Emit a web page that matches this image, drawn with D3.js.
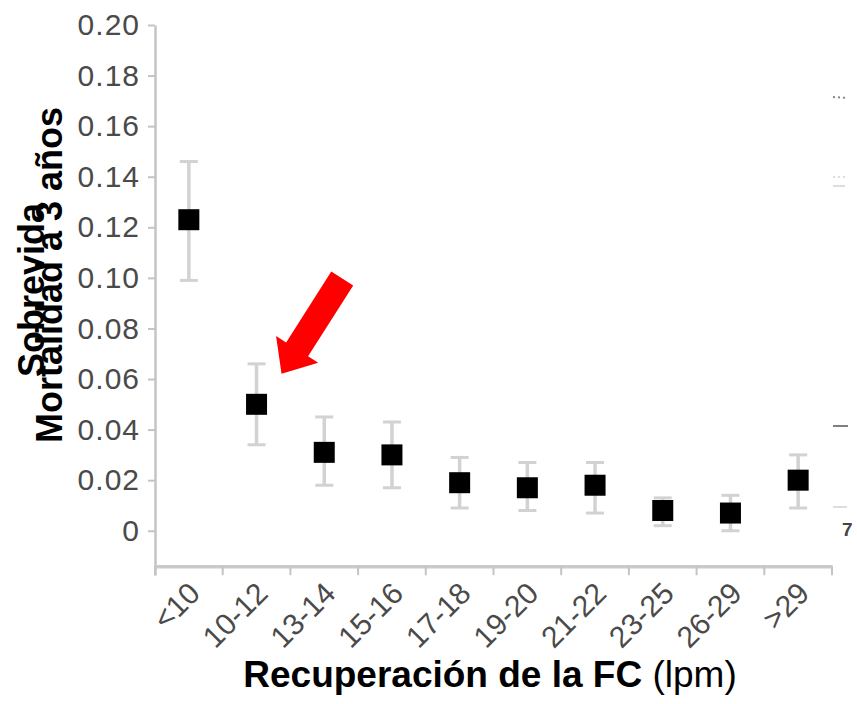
<!DOCTYPE html>
<html>
<head>
<meta charset="utf-8">
<script src="https://cdn.jsdelivr.net/npm/d3@7/dist/d3.min.js"></script>
<style>
  body { margin: 0; background: #fff; }
  svg { display: block; font-family: "Liberation Sans", Arial, sans-serif; }
</style>
</head>
<body>
<svg id="chart" width="857" height="704"></svg>
<script>
// data
var categories = ["<10", "10-12", "13-14", "15-16", "17-18", "19-20", "21-22", "23-25", "26-29", ">29"];
var mortality  = [0.123, 0.050, 0.031, 0.030, 0.019, 0.017, 0.018, 0.008, 0.007, 0.020];
var lowerCI    = [0.099, 0.034, 0.018, 0.017, 0.009, 0.008, 0.007, 0.002, 0.000, 0.009];
var upperCI    = [0.146, 0.066, 0.045, 0.043, 0.029, 0.027, 0.027, 0.013, 0.014, 0.030];
var yTicks     = [0, 0.02, 0.04, 0.06, 0.08, 0.10, 0.12, 0.14, 0.16, 0.18, 0.20];

var svg = d3.select("#chart");

var x = d3.scaleBand().domain(categories).range([155, 832]).padding(0);
var y = d3.scaleLinear().domain([-0.0175, 0.20]).range([575, 25]);

var fmt = function(d) { return d === 0 ? "0" : d3.format(".2f")(d); };

// y axis
var gy = svg.append("g").attr("transform", "translate(155,0)")
  .call(d3.axisLeft(y).tickValues(yTicks).tickSize(7).tickSizeOuter(0).tickPadding(8).tickFormat(fmt));
gy.select(".domain").attr("stroke", "#c4c4c4").attr("stroke-width", 2.5);
gy.selectAll(".tick line").attr("stroke", "#c4c4c4").attr("stroke-width", 2);
gy.selectAll(".tick text")
  .attr("fill", "#4a4a4a")
  .style("font-size", "30px")
  .style("letter-spacing", "1px");

// x axis line
var xAxisY = y(-0.014);
var gx = svg.append("g").attr("transform", "translate(0," + xAxisY + ")")
  .call(d3.axisBottom(x).tickSize(0).tickFormat(""));
gx.select(".domain").attr("stroke", "#cacaca").attr("stroke-width", 3.5);

// ticks at the band edges
var edges = categories.map(function(c) { return x(c); }).concat([x.range()[1]]);
gx.selectAll(".edge").data(edges).enter().append("line")
  .attr("x1", function(d) { return d; })
  .attr("x2", function(d) { return d; })
  .attr("y1", 0).attr("y2", 9)
  .attr("stroke", "#c4c4c4").attr("stroke-width", 2);

// rotated category labels
svg.append("g").selectAll("text").data(categories).enter().append("text")
  .attr("transform", function(d) {
    return "translate(" + (x(d) + x.bandwidth() / 2 + 13) + "," + (xAxisY + 29) + ") rotate(-45)";
  })
  .attr("text-anchor", "end")
  .attr("fill", "#4a4a4a")
  .style("font-size", "30px")
  .text(function(d) { return d; });

// error bars
var eb = svg.append("g");
var cap = 9;
categories.forEach(function(c, i) {
  var cx = x(c) + x.bandwidth() / 2;
  eb.append("line")
    .attr("x1", cx).attr("x2", cx)
    .attr("y1", y(lowerCI[i])).attr("y2", y(upperCI[i]))
    .attr("stroke", "#d2d2d2").attr("stroke-width", 3.5);
  [lowerCI[i], upperCI[i]].forEach(function(v) {
    eb.append("line")
      .attr("x1", cx - cap).attr("x2", cx + cap)
      .attr("y1", y(v)).attr("y2", y(v))
      .attr("stroke", "#d2d2d2").attr("stroke-width", 3);
  });
});

// squares
var s = 21;
svg.append("g").selectAll("rect").data(categories).enter().append("rect")
  .attr("x", function(d) { return x(d) + x.bandwidth() / 2 - s / 2; })
  .attr("y", function(d, i) { return y(mortality[i]) - s / 2; })
  .attr("width", s).attr("height", s)
  .attr("fill", "#000");

// red arrow pointing at the 10-12 group
var tipX = x("10-12") + x.bandwidth() / 2 + 25;
var tipY = y(upperCI[1]) + 10;
var ang = Math.atan2(-95, 60.5) * 180 / Math.PI;
svg.append("path")
  .attr("d", "M0,0 L29,-25 L29,-13 L113,-13 L113,13 L29,13 L29,25 Z")
  .attr("transform", "translate(" + tipX + "," + tipY + ") rotate(" + ang + ")")
  .attr("fill", "#ff0000");

// axis titles
var xt = svg.append("text")
  .attr("x", 490).attr("y", 687)
  .attr("text-anchor", "middle")
  .attr("fill", "#000")
  .style("font-size", "37px");
xt.append("tspan").style("font-weight", "bold").text("Recuperación de la FC");
xt.append("tspan").text(" (lpm)");

svg.append("text")
  .attr("transform", "translate(62,275) rotate(-90)")
  .attr("text-anchor", "middle")
  .style("font-size", "36px").style("font-weight", "bold")
  .text("Mortalidad a 3 años");
svg.append("text")
  .attr("transform", "translate(44,290) rotate(-90)")
  .attr("text-anchor", "middle")
  .style("font-size", "36px").style("font-weight", "bold")
  .text("Sobrevida");

// clipped remnants at the right edge
var rg = svg.append("g").attr("fill", "#666").attr("stroke", "#888");
rg.append("line").attr("x1", 833).attr("x2", 848).attr("y1", 97).attr("y2", 98).attr("stroke-dasharray", "2,3").attr("stroke-width", 2);
rg.append("line").attr("x1", 833).attr("x2", 848).attr("y1", 177).attr("y2", 177).attr("stroke-dasharray", "2,3").attr("stroke", "#bbb");
rg.append("line").attr("x1", 833).attr("x2", 845).attr("y1", 186).attr("y2", 186).attr("stroke", "#bbb");
rg.append("line").attr("x1", 833).attr("x2", 848).attr("y1", 426).attr("y2", 426).attr("stroke", "#555").attr("stroke-width", 1.5);
rg.append("line").attr("x1", 833).attr("x2", 847).attr("y1", 507).attr("y2", 507).attr("stroke", "#bbb");
rg.append("text").attr("x", 842).attr("y", 536).attr("stroke", "none").attr("fill", "#444")
  .style("font-size", "19px").style("font-weight", "bold").text("7");
</script>
</body>
</html>
